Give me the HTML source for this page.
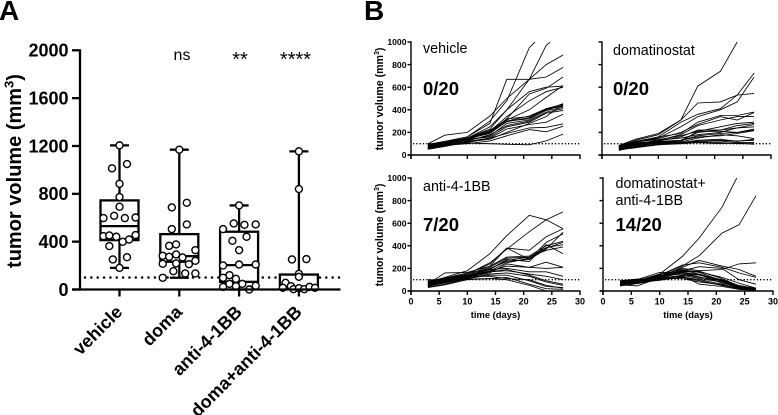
<!DOCTYPE html>
<html>
<head>
<meta charset="utf-8">
<title>Tumor volume chart</title>
<style>
html,body{margin:0;padding:0;background:#fff;}
svg{display:block;font-family:"Liberation Sans",Arial,sans-serif;}
</style>
</head>
<body>
<svg id="fig" xmlns="http://www.w3.org/2000/svg" width="778" height="415" viewBox="0 0 778 415"></svg>
<script>
// ---------- Panel A data ----------
const boxCategories = ["vehicle", "doma", "anti-4-1BB", "doma+anti-4-1BB"];
const boxTicks = [0, 400, 800, 1200, 1600, 2000];
const significance = ["", "ns", "**", "****"];
const thresholdValue = 100;
const boxMin = [181, 98, 0, 0];
const boxQ1 = [413, 232, 64, 8];
const boxMedian = [530, 279, 204, 22];
const boxQ3 = [745, 463, 483, 125];
const boxMax = [1205, 1169, 703, 1155];
const vehiclePoints = [1205,1013,1049,884,773,692,597,616,597,602,446,452,441,399,418,455,363,251,270,181];
const vehicleLanes = [0,-1.4,1.4,0,0,0,-3,-1,1,3,-3,-1.9,-0.6,0.6,1.8,3,-1.9,-1.25,1.4,0];
const domaPoints = [1169,725,686,544,505,365,377,329,282,273,293,268,215,218,212,240,153,134,134,98];
const domaLanes = [0,1.4,-1.4,1.4,-1.4,-1.9,-0.6,3,-3.1,-1.9,-0.6,0.6,-3.1,-0.6,1.8,3,-1.1,1.1,3,-3.1];
const antiPoints = [703,552,541,544,505,441,407,329,201,209,209,120,98,89,47,47,22,28,31,0];
const antiLanes = [0,-1,1,3.1,-3,1.4,-1.25,0,-3,0,3.1,-1.8,-3,-0.6,-1.8,0.6,-3,-0.6,3.1,1.9];
const comboPoints = [1155,840,251,254,131,106,56,28,14,3,11,3,22,14];
const comboLanes = [0,0,-1.3,1.4,0,0,-2.5,-1.5,-3,-1,0,1,2,3];

// ---------- Panel B data ----------
const days = [3,6,10,14,17,21,24,27];
const curveXTicks = [0,5,10,15,20,25,30];
const curveYTicks = [0,200,400,600,800,1000];
const vehicleCurves = [
 [95,120,160,300,480,950,1100,1250],
 [85,110,150,250,400,670,970,1100],
 [100,175,200,345,500,670,800,885],
 [80,120,160,280,670,670,690,775],
 [75,110,150,230,400,560,600,610],
 [70,100,140,200,320,540,590,690],
 [65,100,140,210,340,480,560,600],
 [80,110,150,220,310,400,510,615],
 [60,105,150,200,320,340,400,455],
 [90,120,145,190,300,345,410,450],
 [70,95,135,200,295,330,400,440],
 [55,100,150,210,300,320,410,430],
 [85,110,130,170,280,310,395,420],
 [65,90,125,180,260,300,380,410],
 [75,115,140,160,250,290,370,395],
 [60,85,120,150,230,270,290,360],
 [55,80,110,150,190,240,245,275],
 [60,85,100,125,170,225,205,255],
 [70,95,105,100,95,90,125,185],
 [50,75,115,140,200,280,340,450]
];
const domaCurves = [
 [85,140,190,310,610,740,1000,1350],
 [80,130,180,310,460,470,530,725],
 [75,120,160,290,360,410,530,545],
 [70,120,150,250,340,400,470,690],
 [60,110,160,190,290,350,350,380],
 [65,115,145,200,270,340,310,375],
 [50,95,130,180,260,310,340,340],
 [70,120,135,170,210,250,280,290],
 [55,90,125,160,220,220,260,280],
 [40,75,120,130,200,220,240,270],
 [75,100,130,150,180,200,240,250],
 [55,70,110,120,210,210,200,230],
 [60,95,115,130,170,190,200,220],
 [45,85,100,115,150,180,170,145],
 [80,110,120,110,130,140,120,140],
 [65,85,110,100,130,130,125,130],
 [50,70,95,110,120,125,110,110],
 [60,80,105,105,115,110,100,100],
 [45,65,90,100,110,100,105,95],
 [75,100,110,130,160,170,190,215]
];
const antiCurves = [
 [100,90,150,250,370,525,630,700],
 [80,120,180,330,490,670,630,550],
 [60,160,165,220,380,360,480,550],
 [65,110,150,240,380,280,430,505],
 [70,100,140,220,300,310,400,440],
 [55,95,130,210,290,300,385,410],
 [75,115,160,190,280,260,410,330],
 [50,85,130,200,260,280,370,520],
 [60,95,135,175,220,210,255,210],
 [40,80,120,160,240,210,200,210],
 [85,110,125,190,200,170,170,130],
 [45,70,115,170,180,150,130,100],
 [70,105,140,170,190,140,90,60],
 [35,60,110,150,160,130,80,50],
 [55,95,130,130,110,100,50,25],
 [65,90,110,140,140,90,40,30],
 [30,55,100,110,120,60,20,15],
 [45,75,105,110,100,50,0,0],
 [80,100,120,180,250,290,380,430],
 [90,110,135,195,270,300,360,390]
];
const comboCurves = [
 [80,90,150,305,470,742,1040,1300],
 [70,85,140,220,313,512,586,843],
 [70,90,130,200,180,190,240,250],
 [75,95,125,210,270,220,190,130],
 [65,80,140,230,250,210,160,120],
 [60,85,130,180,215,200,100,60],
 [90,100,120,170,170,120,70,25],
 [55,45,115,160,140,100,40,20],
 [85,95,130,185,150,85,25,15],
 [60,70,110,140,110,80,20,10],
 [75,85,105,130,150,90,30,15],
 [50,75,95,125,100,60,15,10],
 [65,90,145,190,165,90,35,20],
 [80,100,165,160,125,80,30,15],
 [45,65,100,120,90,50,20,10],
 [70,80,125,175,175,110,45,25],
 [55,70,115,135,60,40,15,5],
 [90,105,110,110,80,55,25,10],
 [60,90,150,165,145,70,30,15],
 [75,95,135,150,120,95,50,20]
];

// ---------- helpers ----------
const svg = document.getElementById('fig');
const NS = 'http://www.w3.org/2000/svg';
function make(tag, props, parent){
  const el = document.createElementNS(NS, tag);
  for (const k in props) el.setAttribute(k, props[k]);
  (parent || svg).appendChild(el);
  return el;
}
function label(txt, x, y, size, weight, anchor, parent){
  const t = make('text', {x:x, y:y, 'font-size':size, 'font-weight':weight, 'text-anchor':anchor, fill:'#000'}, parent);
  t.textContent = txt;
  return t;
}
function massTitle(x, y, size, sup, parent){
  const t = make('text', {transform:'translate('+x+','+y+') rotate(-90)', 'font-size':size, 'font-weight':'bold', 'text-anchor':'middle', fill:'#000'}, parent);
  t.appendChild(document.createTextNode('tumor volume (mm'));
  const s = make('tspan', {'font-size':sup, dy:-size*0.38}, t);
  s.textContent = '3';
  const e = make('tspan', {dy:size*0.38}, t);
  e.textContent = ')';
  
  
  return t;
}

// ---------- Panel letters ----------
const letterA = label('A', -1, 20, 28, 'bold', 'start');


const letterB = label('B', 364, 20, 28, 'bold', 'start');



// ---------- Panel A ----------
(function(){
  const g = make('g', {});
  
  
  const yA = v => 289.5 - v * 239.2 / 2000;
  const xA = i => 119.5 + i * 59.8;
  const SW = 2.3, laneW = 5.35;

  const thr = make('line', {x1:85, x2:340, y1:yA(thresholdValue), y2:yA(thresholdValue), stroke:'#000', 'stroke-width':2.5, 'stroke-dasharray':'0 6.35', 'stroke-linecap':'round'}, g);
  
  

  const allPoints = [vehiclePoints, domaPoints, antiPoints, comboPoints];
  const allLanes = [vehicleLanes, domaLanes, antiLanes, comboLanes];

  boxCategories.forEach((cat, i) => {
    const cx = xA(i);
    const whisk = make('line', {x1:cx, x2:cx, y1:yA(boxMax[i]), y2:yA(boxMin[i]), stroke:'#000', 'stroke-width':SW}, g);
    
    
    [boxMax[i], boxMin[i]].forEach(v => {
      const cap = make('line', {x1:cx-9.5, x2:cx+9.5, y1:yA(v), y2:yA(v), stroke:'#000', 'stroke-width':SW}, g);
      
      
    });
    const box = make('rect', {x:cx-19, y:yA(boxQ3[i]), width:38, height:yA(boxQ1[i])-yA(boxQ3[i]), fill:'#fff', stroke:'#000', 'stroke-width':SW}, g);
    
    
    const med = make('line', {x1:cx-19, x2:cx+19, y1:yA(boxMedian[i]), y2:yA(boxMedian[i]), stroke:'#000', 'stroke-width':SW}, g);
    
    
    allPoints[i].forEach((v, j) => {
      const c = make('circle', {cx:cx + allLanes[i][j]*laneW, cy:yA(v), r:3.5, fill:'#fff', stroke:'#000', 'stroke-width':1.4}, g);
      
      
    });
    if (significance[i]) {
      const stars = significance[i] !== 'ns';
      const s = label(significance[i], [0,182,240,295.5][i], stars ? 66 : 60, stars ? 20 : 16, 'normal', 'middle', g);
      
      
    }
    const tick = make('line', {x1:cx, x2:cx, y1:289.5, y2:296.5, stroke:'#000', 'stroke-width':SW}, g);
    
    
    const tl = label(cat, 0, 0, 18, 'bold', 'end', g);
    tl.setAttribute('transform', 'translate(' + (cx+4) + ',313) rotate(-45)');
    
    
  });

  const xAxis = make('line', {x1:72, x2:340.5, y1:289.5, y2:289.5, stroke:'#000', 'stroke-width':SW}, g);
  
  
  const yAxis = make('line', {x1:80, x2:80, y1:49.2, y2:290.6, stroke:'#000', 'stroke-width':SW}, g);
  
  
  boxTicks.forEach(v => {
    const t = make('line', {x1:72, x2:80, y1:yA(v), y2:yA(v), stroke:'#000', 'stroke-width':SW}, g);
    
    
    const l = label(String(v), 68.5, yA(v)+6.4, 18, 'bold', 'end', g);
    
    
  });
  massTitle(21, 171, 20, 13, g);
})();

// ---------- Panel B ----------
function curvePanel(cfg){
  const g = make('g', {});
  
  
  const xS = d => cfg.x0 + d * (cfg.x30 - cfg.x0) / 30;
  const yS = v => cfg.y0 - v * 113 / 1000;

  const clip = make('clipPath', {id: cfg.name + '-clip'}, g);
  make('rect', {x:cfg.x0, y:yS(1000), width:cfg.x30-cfg.x0+2, height:cfg.y0-yS(1000)}, clip);

  const thr = make('line', {x1:cfg.x0+2, x2:cfg.x30, y1:yS(thresholdValue), y2:yS(thresholdValue), stroke:'#000', 'stroke-width':1.4, 'stroke-dasharray':'1.3 2'}, g);
  
  

  const lines = make('g', {'clip-path':'url(#' + cfg.name + '-clip)'}, g);
  cfg.curves.forEach(series => {
    const pts = series.map((v, i) => xS(days[i]).toFixed(1) + ',' + yS(v).toFixed(1)).join(' ');
    const p = make('polyline', {points:pts, fill:'none', stroke:'#000', 'stroke-width':0.85}, lines);
    
    
  });

  const xAxis = make('line', {x1:cfg.x0-3.5, x2:cfg.x30+0.5, y1:cfg.y0, y2:cfg.y0, stroke:'#000', 'stroke-width':1.4}, g);
  
  
  const yAxis = make('line', {x1:cfg.x0, x2:cfg.x0, y1:yS(1000)-0.7, y2:cfg.y0+4, stroke:'#000', 'stroke-width':1.4}, g);
  
  

  curveXTicks.forEach(d => {
    const t = make('line', {x1:xS(d), x2:xS(d), y1:cfg.y0, y2:cfg.y0+4, stroke:'#000', 'stroke-width':1.4}, g);
    
    
    if (cfg.xLabels) {
      const l = label(String(d), xS(d), cfg.y0+13.5, 9, 'bold', 'middle', g);
      
      
    }
  });
  curveYTicks.forEach(v => {
    const t = make('line', {x1:cfg.x0-3.5, x2:cfg.x0, y1:yS(v), y2:yS(v), stroke:'#000', 'stroke-width':1.4}, g);
    
    
    if (cfg.yLabels) {
      const l = label(String(v), cfg.x0-4.5, yS(v)+3.2, 8.6, 'bold', 'end', g);
      
      
    }
  });
  if (cfg.yLabels) massTitle(383, cfg.y0-56, 10.6, 7, g);
  if (cfg.xLabels) {
    const xt = label('time (days)', (cfg.x0+cfg.x30)/2, cfg.y0+27, 9.4, 'bold', 'middle', g);
    
    
  }
  cfg.titles.forEach((line, i) => {
    const tt = label(line, cfg.tx, cfg.ty + i*17, 14.3, 'normal', 'start', g);
    
    
  });
  const fr = label(cfg.fraction, cfg.tx, cfg.fy, 18.5, 'bold', 'start', g);
  
  
}

curvePanel({name:'vehicle-panel', curves:vehicleCurves, x0:411, x30:580, y0:155, yLabels:true, xLabels:false, titles:['vehicle'], fraction:'0/20', tx:423, ty:53, fy:95});
curvePanel({name:'domatinostat-panel', curves:domaCurves, x0:602, x30:771, y0:155, yLabels:false, xLabels:false, titles:['domatinostat'], fraction:'0/20', tx:613, ty:55, fy:95});
curvePanel({name:'anti-4-1bb-panel', curves:antiCurves, x0:411, x30:580, y0:291, yLabels:true, xLabels:true, titles:['anti-4-1BB'], fraction:'7/20', tx:423, ty:191, fy:231});
curvePanel({name:'combination-panel', curves:comboCurves, x0:603, x30:773, y0:291, yLabels:false, xLabels:true, titles:['domatinostat+','anti-4-1BB'], fraction:'14/20', tx:615.5, ty:188, fy:231});
</script>
</body>
</html>
